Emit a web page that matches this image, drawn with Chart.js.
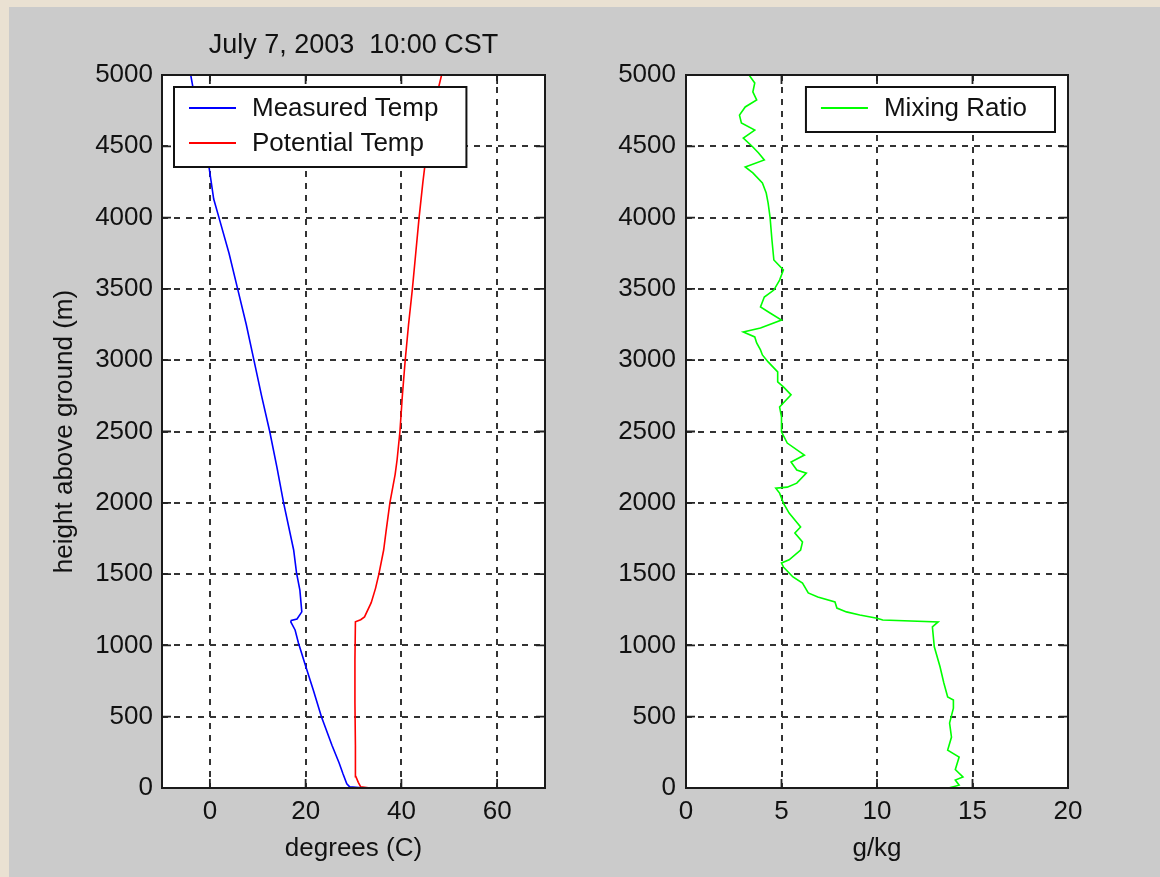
<!DOCTYPE html>
<html>
<head>
<meta charset="utf-8">
<title>July 7, 2003 10:00 CST sounding</title>
<script src="https://cdn.jsdelivr.net/npm/chart.js@4.4.0/dist/chart.umd.min.js"></script>
<style>
    body { margin: 0; width: 1160px; height: 877px; overflow: hidden; position: relative; background: #eae1d2; }
    #panel { position: absolute; left: 9px; top: 7px; right: 0; bottom: 0; background: #cbcbcb; }
    .plot { position: absolute; top: 0; height: 877px; }
    #leftPlot { left: 10px; width: 560px; }
    #rightPlot { left: 580px; width: 580px; }
</style>
</head>
<body>
<div id="panel"></div>
<div class="plot" id="leftPlot"><canvas id="tempChart"></canvas></div>
<div class="plot" id="rightPlot"><canvas id="mixChart"></canvas></div>
<script>
// ---- data ----
const chartTitle = 'July 7, 2003  10:00 CST';

const heightTicks = [0, 500, 1000, 1500, 2000, 2500, 3000, 3500, 4000, 4500, 5000];
const tempTicks = [0, 20, 40, 60];
const mixTicks = [0, 5, 10, 15, 20];

// measured temperature (C) vs height (m)
const tempHeights = [0, 8, 30, 100, 175, 300, 500, 687, 876, 1017, 1108, 1165, 1175, 1185, 1235, 1388, 1508, 1669,
    2000, 2250, 2500, 2750, 3000, 3250, 3500, 3750, 4000, 4130, 4360, 4500, 4700, 4850, 5000];
const measuredTemp = [32.4, 29.2, 28.6, 27.8, 27.0, 25.5, 23.3, 21.6, 19.8, 18.5, 17.8, 16.9, 17.0, 18.2, 19.2, 18.8, 18.1, 17.5,
    15.4, 14.0, 12.5, 10.8, 9.2, 7.6, 5.8, 4.0, 1.9, 0.8, -0.2, -1.0, -2.2, -3.2, -4.0];

// potential temperature (C) vs height (m)
const thetaHeights = [0, 8, 40, 80, 300, 600, 900, 1165, 1180, 1200, 1300, 1400, 1500, 1669, 1800, 2000, 2200, 2300,
    2500, 2750, 3000, 3250, 3500, 3750, 4000, 4250, 4500, 4750, 5000];
const potentialTemp = [33.5, 31.5, 31.0, 30.5, 30.4, 30.3, 30.3, 30.4, 31.5, 32.3, 33.7, 34.6, 35.3, 36.3, 36.8, 37.6, 38.7, 39.1,
    39.7, 40.2, 40.8, 41.5, 42.3, 43.0, 43.7, 44.5, 45.4, 46.6, 48.4];

// mixing ratio (g/kg) vs height (m)
const mixHeights = [0, 2, 20, 56, 77, 130, 217, 266, 357, 455, 560, 617, 638, 736, 850, 990, 1130, 1165, 1178, 1190,
    1213, 1235, 1262, 1305, 1340, 1368, 1437, 1480, 1550, 1578, 1600, 1669, 1725, 1788, 1830, 1928, 1998, 2068,
    2103, 2110, 2138, 2208, 2230, 2286, 2335, 2419, 2497, 2602, 2672, 2757, 2813, 2848, 2918, 2988, 3037, 3072,
    3121, 3163, 3198, 3226, 3282, 3331, 3373, 3443, 3492, 3562, 3633, 3703, 3843, 4004, 4102, 4172, 4243, 4313,
    4355, 4404, 4453, 4495, 4558, 4614, 4663, 4719, 4776, 4825, 4881, 4944, 5000];
const mixingRatio = [15.2, 13.8, 14.3, 14.1, 14.5, 14.1, 14.3, 13.7, 13.9, 13.8, 14.0, 14.0, 13.7, 13.5, 13.3, 13.0, 12.9, 13.2, 10.3, 10.0,
    9.1, 8.4, 7.9, 7.8, 6.9, 6.4, 6.1, 5.6, 5.1, 5.0, 5.4, 6.0, 6.1, 5.7, 6.0, 5.4, 5.1, 4.9,
    4.7, 5.3, 5.8, 6.3, 5.8, 5.5, 6.2, 5.3, 5.0, 5.0, 4.9, 5.5, 5.1, 4.8, 4.8, 4.3, 4.0, 3.9,
    3.7, 3.6, 3.0, 3.9, 5.0, 4.4, 3.9, 4.1, 4.6, 4.9, 5.1, 4.6, 4.5, 4.4, 4.3, 4.2, 4.0, 3.5,
    3.1, 4.1, 3.8, 3.5, 3.0, 3.6, 2.9, 2.8, 3.1, 3.7, 3.5, 3.6, 3.3];

const INK = '#111111';
const GRID = '#333333';
const FONT = "'Liberation Sans', Arial, sans-serif";
Chart.defaults.font.family = FONT;

function toPoints(heights, values) {
    return heights.map((h, i) => ({ x: values[i], y: h }));
}

// white plot area, matlab-style box, inside ticks, boxed legend and title
const framePlugin = {
    id: 'frame',
    beforeDraw(chart) {
        const a = chart.chartArea;
        const ctx = chart.ctx;
        ctx.save();
        ctx.fillStyle = '#ffffff';
        ctx.fillRect(a.left, a.top, a.right - a.left, a.bottom - a.top);
        ctx.restore();
    },
    afterDraw(chart, args, opts) {
        const a = chart.chartArea;
        const ctx = chart.ctx;
        const xs = chart.scales.x;
        const ys = chart.scales.y;
        ctx.save();

        // tick marks pointing inwards
        ctx.strokeStyle = '#222222';
        ctx.lineWidth = 1.8;
        ctx.beginPath();
        xs.ticks.forEach(t => {
            const px = xs.getPixelForValue(t.value);
            ctx.moveTo(px, a.bottom); ctx.lineTo(px, a.bottom - 9);
            ctx.moveTo(px, a.top); ctx.lineTo(px, a.top + 9);
        });
        ys.ticks.forEach(t => {
            const py = ys.getPixelForValue(t.value);
            ctx.moveTo(a.left, py); ctx.lineTo(a.left + 9, py);
            ctx.moveTo(a.right, py); ctx.lineTo(a.right - 9, py);
        });
        ctx.stroke();

        // box
        ctx.strokeStyle = '#1a1a1a';
        ctx.lineWidth = 2;
        ctx.strokeRect(a.left, a.top, a.right - a.left, a.bottom - a.top);

        // title
        if (opts.title) {
            ctx.fillStyle = INK;
            ctx.font = '27px ' + FONT;
            ctx.textAlign = 'center';
            ctx.textBaseline = 'alphabetic';
            ctx.fillText(opts.title, (a.left + a.right) / 2, 53);
        }

        // legend
        const sets = chart.data.datasets;
        ctx.font = '26px ' + FONT;
        const textW = Math.max(...sets.map(d => ctx.measureText(d.label).width));
        const boxW = 78 + textW + 28;
        const boxH = 10 + sets.length * 35;
        const bx = opts.legendSide === 'left' ? a.left + 12 : a.right - 13 - boxW;
        const by = a.top + 12;
        ctx.fillStyle = '#ffffff';
        ctx.fillRect(bx, by, boxW, boxH);
        ctx.strokeStyle = '#111111';
        ctx.lineWidth = 2;
        ctx.strokeRect(bx, by, boxW, boxH);
        sets.forEach((d, i) => {
            const ry = by + 21 + i * 35;
            ctx.strokeStyle = d.borderColor;
            ctx.lineWidth = 1.8;
            ctx.beginPath();
            ctx.moveTo(bx + 15, ry); ctx.lineTo(bx + 62, ry);
            ctx.stroke();
            ctx.fillStyle = INK;
            ctx.textAlign = 'left';
            ctx.textBaseline = 'middle';
            ctx.fillText(d.label, bx + 78, ry + 1);
        });
        ctx.restore();
    }
};

function buildOptions(cfg) {
    return {
        animation: false,
        responsive: true,
        maintainAspectRatio: false,
        layout: { padding: { top: 75, right: cfg.padRight, left: 0, bottom: 0 } },
        plugins: {
            legend: { display: false },
            tooltip: { enabled: false },
            frame: { title: cfg.title, legendSide: cfg.legendSide }
        },
        scales: {
            x: {
                type: 'linear',
                min: cfg.xMin,
                max: cfg.xMax,
                afterBuildTicks: s => { s.ticks = cfg.xTicks.map(v => ({ value: v })); },
                afterFit: s => { s.height = 89; },
                grid: { color: GRID, lineWidth: 2, drawTicks: false },
                border: { display: false, dash: [6, 6] },
                ticks: { color: INK, font: { size: 26 }, padding: 8, maxRotation: 0, autoSkip: false, callback: v => String(v) },
                title: { display: true, text: cfg.xTitle, color: INK, font: { size: 26 }, padding: { top: 0, bottom: 13 } }
            },
            y: {
                type: 'linear',
                min: 0,
                max: 5000,
                afterBuildTicks: s => { s.ticks = heightTicks.map(v => ({ value: v })); },
                afterFit: s => { s.width = cfg.yWidth; },
                grid: { color: GRID, lineWidth: 2, drawTicks: false },
                border: { display: false, dash: [6, 6] },
                ticks: { color: INK, font: { size: 26 }, padding: cfg.yPad, autoSkip: false, callback: v => String(v) },
                title: { display: !!cfg.yTitle, text: cfg.yTitle || '', color: INK, font: { size: 26 }, padding: { top: 39, bottom: 0 } }
            }
        }
    };
}

new Chart(document.getElementById('tempChart'), {
    type: 'scatter',
    data: {
        datasets: [{
            label: 'Measured Temp',
            data: toPoints(tempHeights, measuredTemp),
            showLine: true,
            borderColor: '#0000ff',
            borderWidth: 1.6,
            pointRadius: 0,
            tension: 0
        }, {
            label: 'Potential Temp',
            data: toPoints(thetaHeights, potentialTemp),
            showLine: true,
            borderColor: '#ff0000',
            borderWidth: 1.6,
            pointRadius: 0,
            tension: 0
        }]
    },
    options: buildOptions({
        xMin: -10, xMax: 70, xTicks: tempTicks, xTitle: 'degrees (C)',
        yTitle: 'height above ground (m)', yWidth: 152, yPad: 9, padRight: 25,
        title: chartTitle, legendSide: 'left'
    }),
    plugins: [framePlugin]
});

new Chart(document.getElementById('mixChart'), {
    type: 'scatter',
    data: {
        datasets: [{
            label: 'Mixing Ratio',
            data: toPoints(mixHeights, mixingRatio),
            showLine: true,
            borderColor: '#00ff00',
            borderWidth: 1.6,
            pointRadius: 0,
            tension: 0
        }]
    },
    options: buildOptions({
        xMin: 0, xMax: 20, xTicks: mixTicks, xTitle: 'g/kg',
        yTitle: null, yWidth: 106, yPad: 10, padRight: 92,
        title: null, legendSide: 'right'
    }),
    plugins: [framePlugin]
});
</script>
</body>
</html>
